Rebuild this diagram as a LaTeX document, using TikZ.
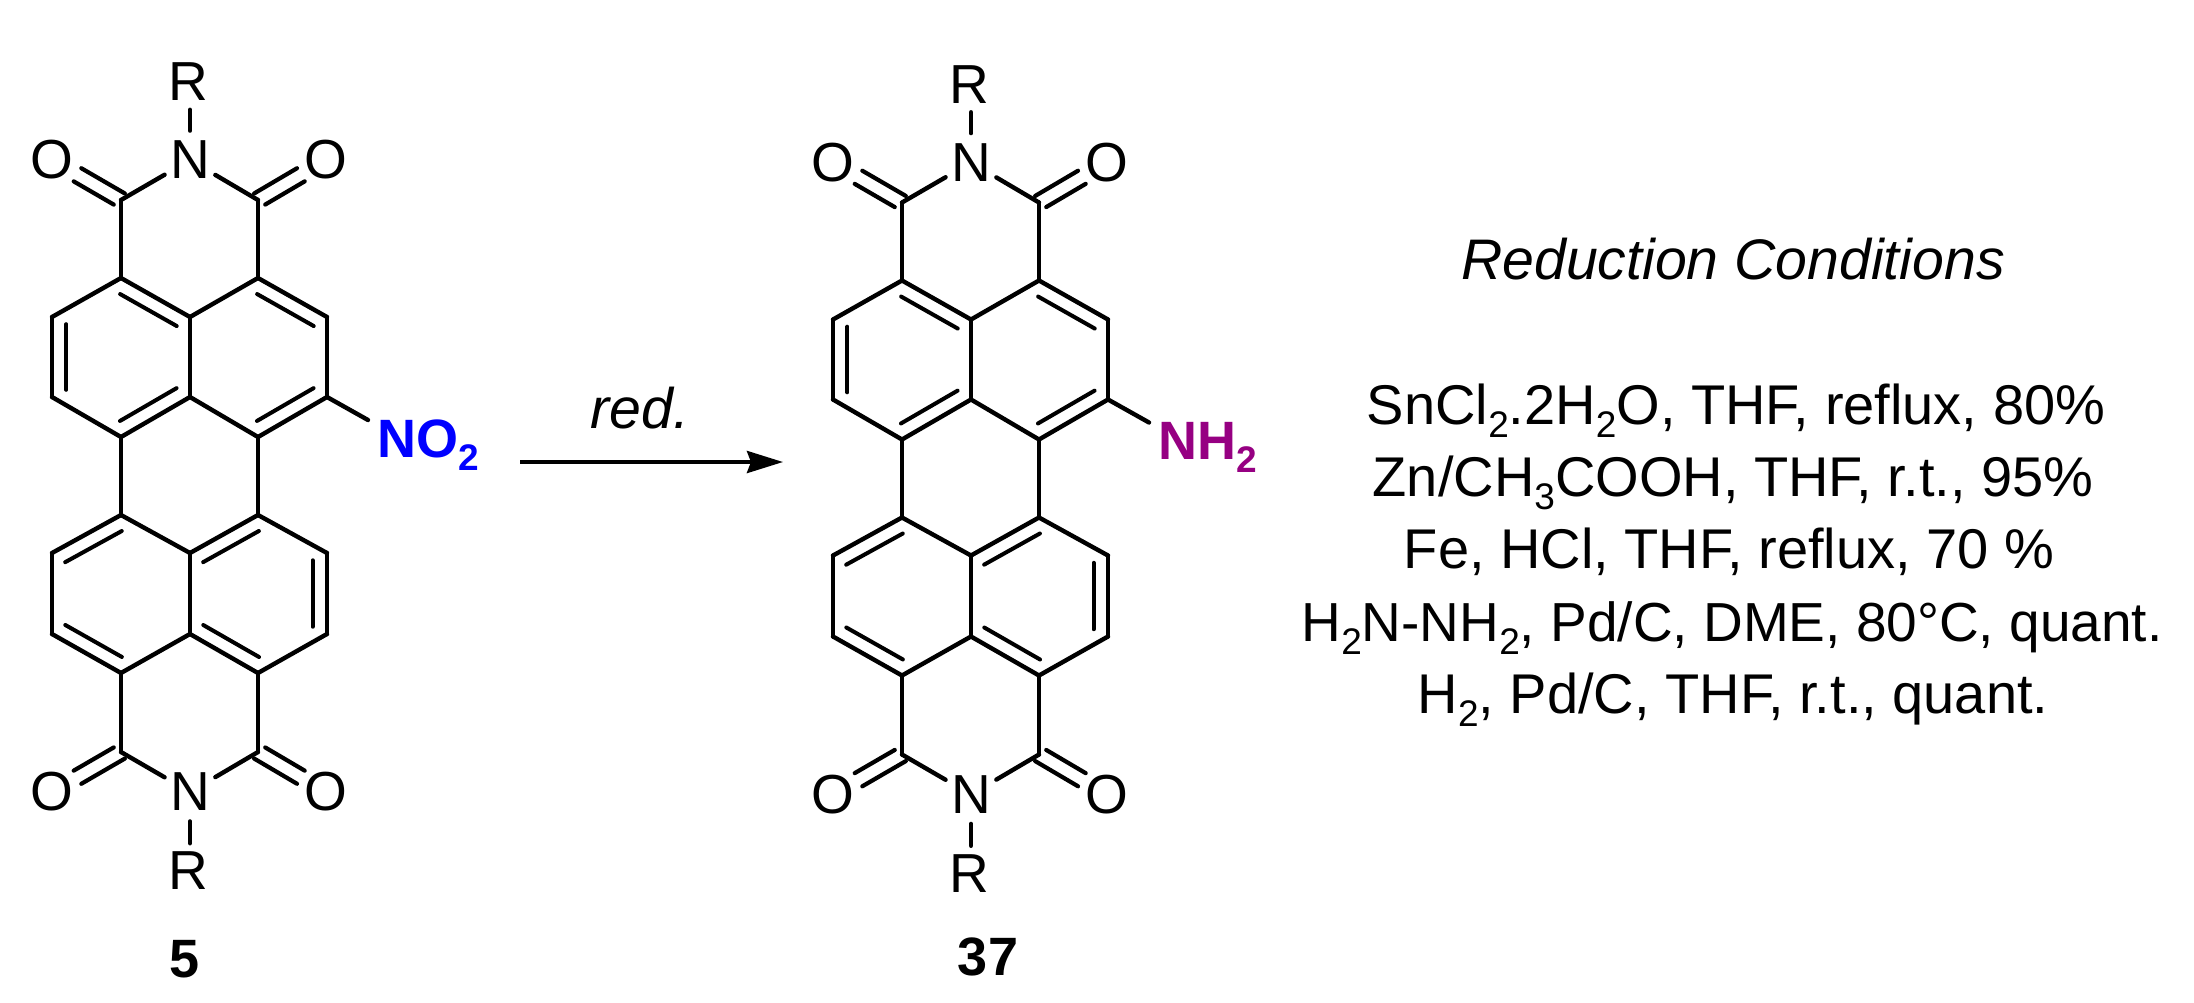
\documentclass[tikz,border=0pt]{standalone}
\usepackage{fontspec}
\setmainfont{Liberation Sans}
\usetikzlibrary{calc,arrows.meta}
\definecolor{nitro}{RGB}{0,0,255}
\definecolor{amino}{RGB}{150,0,130}
\tikzset{
  bond/.style={line width=2.2pt,line cap=round,line join=round,black},
  inner bond/.style={line width=2pt,line cap=round,black},
  atom/.style={circle,inner sep=0pt,minimum size=29pt,font=\fontsize{27.5}{32}\selectfont},
  endatom/.style={circle,inner sep=0pt,minimum size=27pt,font=\fontsize{27.5}{32}\selectfont},
  txt/.style={inner sep=0pt,anchor=base,font=\fontsize{28}{32}\selectfont},
  headtxt/.style={inner sep=0pt,anchor=base,font=\fontsize{28.6}{32}\selectfont\itshape},
  boldtxt/.style={inner sep=0pt,font=\fontsize{27}{32}\selectfont\bfseries},
}
\newcommand\sbs[1]{\raisebox{-6.5pt}{\fontsize{18.5}{20}\selectfont #1}}
\newcommand\bd[2]{\draw[bond] (\p#1) -- (\p#2);}
\newcommand\dl[2]{\draw[inner bond] ($(\p#1)!.09!(\p#2)!7.2pt!90:(\p#2)$) -- ($(\p#1)!.91!(\p#2)!7.2pt!90:(\p#2)$);}
% carbonyl: two strokes, one each side of the C--O axis; #3 #4 start fractions
\newcommand\co[4]{%
  \draw[inner bond,line width=2.1pt] ($(\p#1)!#3!(\p#2)!3.8pt!90:(\p#2)$) -- ($(\p#1)!.63!(\p#2)!3.8pt!90:(\p#2)$);
  \draw[inner bond,line width=2.1pt] ($(\p#1)!#4!(\p#2)!3.8pt!-90:(\p#2)$) -- ($(\p#1)!.63!(\p#2)!3.8pt!-90:(\p#2)$);}
\newcommand\molecule[4]{% prefix, dx, dy, substituent label
\def\p{#1}
\begin{scope}[shift={(#2,#3)}]
  \coordinate (\p co1) at (121,200); \coordinate (\p co2) at (258,200);
  \coordinate (\p t1) at (121,278);  \coordinate (\p t2) at (258,278);
  \coordinate (\p lT) at (52,317);   \coordinate (\p cT) at (190,317); \coordinate (\p rT) at (327,317);
  \coordinate (\p lB) at (52,397);   \coordinate (\p cB) at (190,397); \coordinate (\p rB) at (327,397);
  \coordinate (\p b1) at (121,437);  \coordinate (\p b2) at (258,437);
  \coordinate (\p u1) at (121,515);  \coordinate (\p u2) at (258,515);
  \coordinate (\p ulT) at (52,553);  \coordinate (\p ucT) at (190,553); \coordinate (\p urT) at (327,553);
  \coordinate (\p ulB) at (52,634);  \coordinate (\p ucB) at (190,634); \coordinate (\p urB) at (327,634);
  \coordinate (\p d1) at (121,673);  \coordinate (\p d2) at (258,673);
  \coordinate (\p co3) at (121,752); \coordinate (\p co4) at (258,752);
  \coordinate (\p sb) at (368,420);
  \node[atom] (\p N1) at (190,160) {N};
  \node[endatom] (\p R1) at (188,82) {R};
  \node[atom] (\p O1) at (52,160) {O};
  \node[atom] (\p O2) at (326,160) {O};
  \node[atom] (\p N2) at (190,792) {N};
  \node[endatom] (\p R2) at (188,871) {R};
  \node[atom] (\p O3) at (52,792) {O};
  \node[atom] (\p O4) at (326,792) {O};
  \node[boldtxt,anchor=base west] (\p X) at (377,457) {#4};
  % upper naphthalene
  \bd{t1}{lT}\bd{t1}{cT}\bd{t2}{cT}\bd{t2}{rT}\bd{rT}{rB}\bd{rB}{b2}\bd{b2}{cB}\bd{cB}{b1}\bd{b1}{lB}\bd{lB}{lT}\bd{cT}{cB}
  \dl{cT}{t1}\dl{rT}{t2}\dl{b2}{rB}\dl{b1}{cB}\dl{lT}{lB}
  % lower naphthalene
  \bd{b1}{u1}\bd{b2}{u2}
  \bd{u1}{ulT}\bd{u1}{ucT}\bd{u2}{ucT}\bd{u2}{urT}\bd{urT}{urB}\bd{urB}{d2}\bd{d2}{ucB}\bd{ucB}{d1}\bd{d1}{ulB}\bd{ulB}{ulT}\bd{ucT}{ucB}
  \dl{u1}{ulT}\dl{u2}{ucT}\dl{urB}{urT}\dl{ucB}{d2}\dl{ulB}{d1}
  % imides
  \bd{t1}{co1}\bd{t2}{co2}\bd{d1}{co3}\bd{d2}{co4}
  \draw[bond] (\p co1) -- (\p N1); \draw[bond] (\p co2) -- (\p N1);
  \draw[bond] (\p co3) -- (\p N2); \draw[bond] (\p co4) -- (\p N2);
  \draw[bond] (\p N1.north) -- (\p N1.north |- \p R1.south);
  \draw[bond] (\p N2.south) -- (\p N2.south |- \p R2.north);
  \co{co1}{O1}{.05}{0}\co{co2}{O2}{0}{.05}\co{co3}{O3}{0}{.05}\co{co4}{O4}{.05}{0}
  \bd{rB}{sb}
\end{scope}}
\begin{document}
\begin{tikzpicture}[x=0.5pt,y=-0.5pt]
\useasboundingbox (0,0) rectangle (2194,1002);
\molecule{A}{0}{0}{\textcolor{nitro}{NO\sbs{2}}}
\molecule{B}{781}{2.5}{\textcolor{amino}{NH\sbs{2}}}
\node[boldtxt,anchor=base] (lab5) at (185,977) {5};
\node[boldtxt,anchor=base] (lab37) at (988,975) {37};
\coordinate (arrS) at (520,462);
\coordinate (arrE) at (783,462);
\draw[line width=2pt,-{Stealth[length=18pt,width=11pt,inset=2pt]}] (arrS) -- (arrE);
\node[headtxt] (red) at (640,428) {red.};
\node[headtxt] (head) at (1733,279) {Reduction Conditions};
\node[txt] (c1) at (1736,424) {SnCl\sbs{2}.2H\sbs{2}O, THF, reflux, 80\%};
\node[txt] (c2) at (1733,496) {Zn/CH\sbs{3}COOH, THF, r.t., 95\%};
\node[txt] (c3) at (1729,568) {Fe, HCl, THF, reflux, 70 \%};
\node[txt,font=\fontsize{27.5}{32}\selectfont] (c4) at (1732,641) {H\sbs{2}N-NH\sbs{2}, Pd/C, DME, 80°C, quant.};
\node[txt] (c5) at (1733,713) {H\sbs{2}, Pd/C, THF, r.t., quant.};
\end{tikzpicture}
\end{document}
